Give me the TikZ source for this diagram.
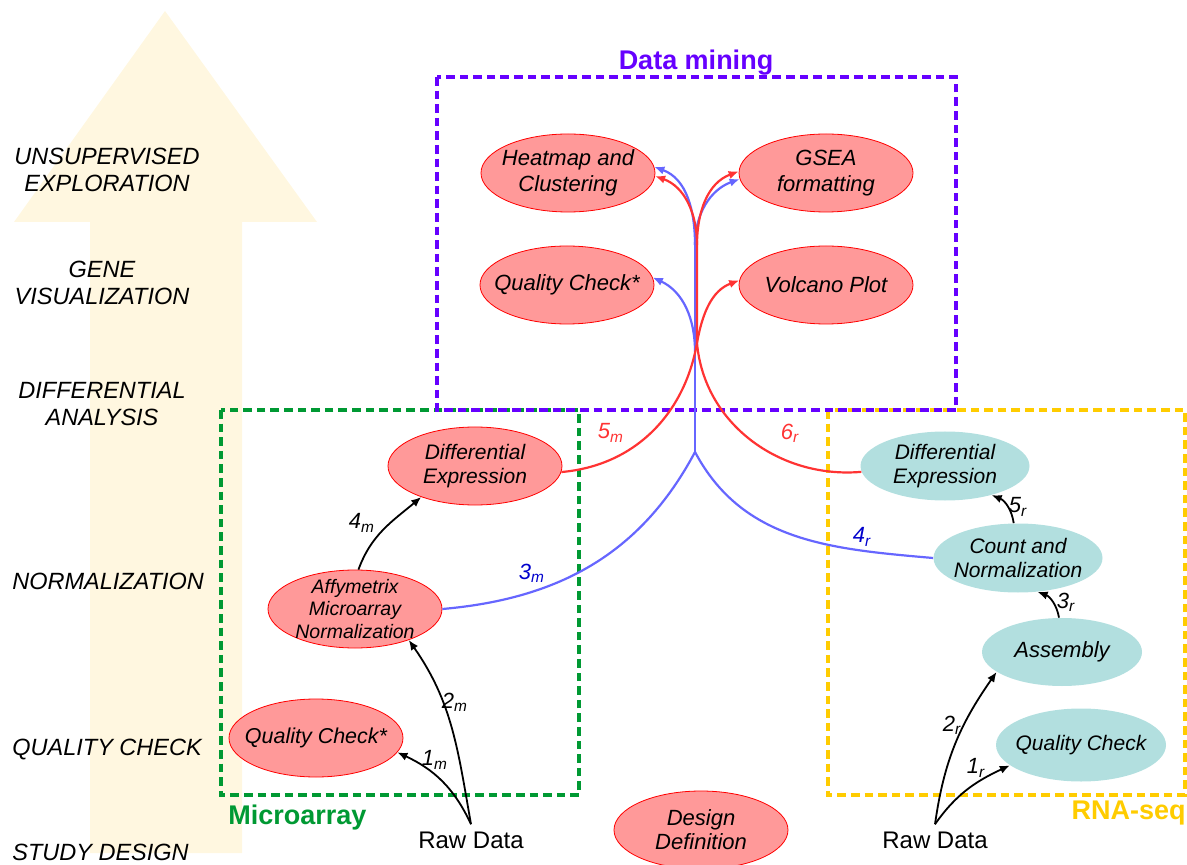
\documentclass[tikz,border=0pt]{standalone}
\usepackage{fontspec}
\setmainfont{Liberation Sans}
\usepackage{tikz}
\usetikzlibrary{arrows.meta,shapes.geometric,positioning}

\definecolor{nodered}{RGB}{255,153,153}
\definecolor{linered}{RGB}{255,51,51}
\definecolor{lineblue}{RGB}{102,102,255}
\definecolor{labblue}{RGB}{0,0,204}
\definecolor{nodecyan}{RGB}{178,223,223}
\definecolor{minepurple}{RGB}{102,0,255}
\definecolor{microgreen}{RGB}{0,153,51}
\definecolor{rnayellow}{RGB}{255,204,0}
\definecolor{bgarrow}{RGB}{255,247,224}

\begin{document}
\begin{tikzpicture}[x=0.5pt, y=0.5pt, >={Latex[length=5pt,width=4.2pt]},
rnode/.style = {draw=red, fill=nodered, ellipse, inner sep=-20pt, minimum width=87pt, minimum height=39pt, align=center, font=\itshape\fontsize{11}{13}\selectfont},
cnode/.style = {fill=nodecyan, ellipse, inner sep=-20pt, minimum width=84.5pt, minimum height=34.5pt, align=center, font=\itshape\fontsize{10.5}{12}\selectfont},
lvl/.style = {align=center, inner sep=0pt, font=\itshape\fontsize{11.75}{13.5}\selectfont},
group/.style = {line width=1.7pt, dash pattern=on 4.3pt off 2.5pt},
title/.style = {inner sep=0pt, font=\bfseries\fontsize{13.5}{16}\selectfont},
raw/.style = {inner sep=3.5pt, font=\fontsize{12}{14}\selectfont},
lab/.style = {inner sep=0pt, font=\itshape\fontsize{11}{13}\selectfont},
arr/.style = {line width=0.9pt, ->},
redline/.style = {draw=linered, line width=1.1pt},
blueline/.style = {draw=lineblue, line width=1.1pt},
                    ]
    \useasboundingbox (0,0) rectangle (1187,-865);
    % level arrow on the left
    \fill[bgarrow] (90,-853) -- (90,-222) -- (14,-222) -- (165,-11) -- (317,-222) -- (242,-222) -- (242,-853) -- cycle;
    \node[lvl] (unsup) at (107,-170) {UNSUPERVISED\\EXPLORATION};
    \node[lvl] (genevis) at (102,-283) {GENE\\VISUALIZATION};
    \node[lvl] (diffan) at (102,-404) {DIFFERENTIAL\\ANALYSIS};
    \node[lvl, anchor=west] (normlvl) at (12,-581) {NORMALIZATION};
    \node[lvl, anchor=west] (quallvl) at (12,-750) {QUALITY CHECK};
    \node[lvl, anchor=west] (studylvl) at (12,-852) {STUDY DESIGN};

    % groups
    \draw[group, microgreen] (221,-410) rectangle (579,-795);
    \draw[group, rnayellow] (828,-410) rectangle (1185,-795);
    \draw[group, minepurple] (437,-77) rectangle (956,-410);
    \node[title, text=minepurple] (mining) at (696,-63) {Data mining};
    \node[title, text=microgreen, anchor=west] (micro) at (228,-818) {Microarray};
    \node[title, text=rnayellow, anchor=east] (rnaseq) at (1186,-813) {RNA-seq};

    % data mining
    \node[rnode] (heat) at (568,-173) {Heatmap and\\Clustering};
    \node[rnode] (gsea) at (826,-173) {GSEA\\formatting};
    \node[rnode] (qcd) at (567,-285) {Quality Check*};
    \node[rnode] (volc) at (826,-285) {Volcano Plot};
    % microarray
    \node[rnode, font=\itshape\fontsize{10.5}{12}\selectfont] (diffm) at (475,-466) {Differential\\Expression};
    \node[rnode, font=\itshape\fontsize{9.75}{11.25}\selectfont] (affy) at (355,-609) {Affymetrix\\Microarray\\Normalization};
    \node[rnode, font=\itshape\fontsize{10.75}{13}\selectfont] (qcm) at (316,-738) {Quality Check*};
    \node[raw] (rawm) at (471,-840) {Raw Data};
    \node[rnode, font=\itshape\fontsize{11}{12}\selectfont] (design) at (701,-830) {Design\\Definition};
    % rna-seq
    \node[cnode] (diffr) at (945,-466) {Differential\\Expression};
    \node[cnode] (countr) at (1018,-558) {Count and\\Normalization};
    \node[cnode, minimum width=80pt, minimum height=34pt, font=\itshape\fontsize{11}{13}\selectfont] (assembly) at (1062,-652) {Assembly};
    \node[cnode, minimum width=85pt, minimum height=36.5pt] (qcr) at (1081,-745) {Quality Check};
    \node[raw] (rawr) at (935,-840) {Raw Data};

    \coordinate (join) at (695,-452);
    \coordinate (bsplit) at (695,-245);
    \coordinate (bqc) at (695,-352);
    \coordinate (cross) at (697,-343);
    \coordinate (rsplit) at (697,-245);

    % black steps
    \draw[arr] (rawm.north) to[out=115,in=-25] (qcm.-10);
    \draw[arr] (rawm.north) to[out=100,in=-55] (affy.-30);
    \draw[arr] (affy.85) to[out=70,in=-140] (diffm.210);
    \draw[arr] (rawr.north) to[out=55,in=-155] (qcr.196);
    \draw[arr] (rawr.north) to[out=82,in=-125] (assembly.197);
    \draw[arr] (assembly.95) to[bend right=30] (countr.-60);
    \draw[arr] (countr.97) to[bend right=30] (diffr.-32);

    % blue paths
    \draw[blueline] (affy.east) to[out=5,in=-118] (join);
    \draw[blueline] (countr.west) to[out=175,in=-62] (join);
    \draw[blueline] (join) -- (bsplit);
    \draw[blueline,->] (bqc) to[out=90,in=-25] (qcd.5);
    \draw[blueline,->] (bsplit) to[out=90,in=-20] (heat.4);
    \draw[blueline,->] (bsplit) to[out=90,in=200] (gsea.184);

    % red paths
    \draw[redline] (diffr.184) to[out=185,in=-85] (cross) -- (rsplit);
    \draw[redline,->] (diffm.-4) to[out=5,in=-100] (cross) to[out=80,in=200] (volc.177);
    \draw[redline,->] (rsplit) to[out=90,in=-20] (heat.-2);
    \draw[redline,->] (rsplit) to[out=90,in=200] (gsea.179);

    % step labels
    \node[lab] (l1m) at (435,-760) {1\textsubscript{m}};
    \node[lab] (l2m) at (455,-702) {2\textsubscript{m}};
    \node[lab, text=labblue] (l3m) at (532,-573) {3\textsubscript{m}};
    \node[lab] (l4m) at (362,-523) {4\textsubscript{m}};
    \node[lab, text=linered] (l5m) at (611,-433) {5\textsubscript{m}};
    \node[lab] (l1r) at (976,-768) {1\textsubscript{r}};
    \node[lab] (l2r) at (952,-725) {2\textsubscript{r}};
    \node[lab] (l3r) at (1066,-602) {3\textsubscript{r}};
    \node[lab, text=labblue] (l4r) at (862,-537) {4\textsubscript{r}};
    \node[lab] (l5r) at (1018,-507) {5\textsubscript{r}};
    \node[lab, text=linered] (l6r) at (790,-433) {6\textsubscript{r}};
\end{tikzpicture}
\end{document}
